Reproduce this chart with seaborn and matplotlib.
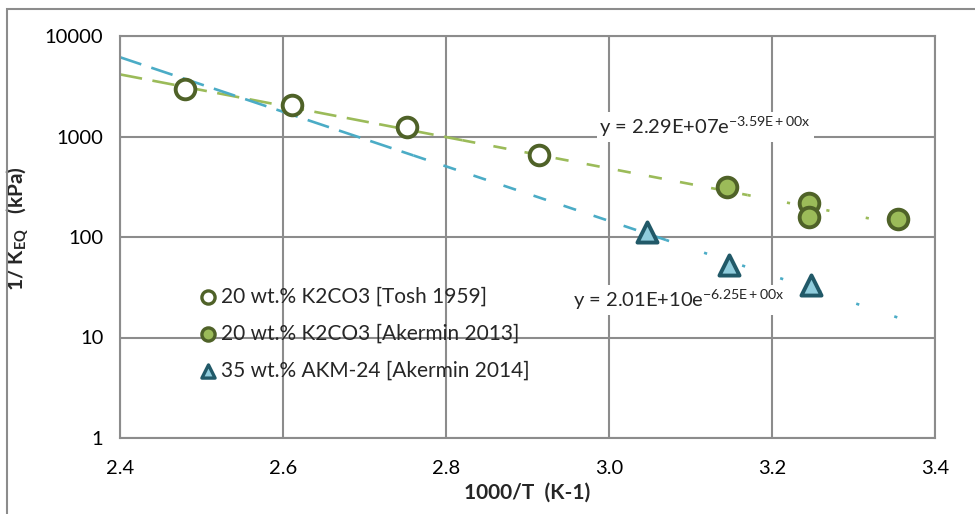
import numpy as np
import pandas as pd
import matplotlib
matplotlib.use("Agg")
import matplotlib.pyplot as plt
from matplotlib.patches import Rectangle
import seaborn as sns

# ---- data ----
tosh_x = [2.480, 2.611, 2.752, 2.914]
tosh_y = [2970, 2050, 1245, 655]

ak13_x = [3.145, 3.245, 3.245, 3.355]
ak13_y = [315, 218, 158, 151]

ak14_x = [3.047, 3.147, 3.248]
ak14_y = [112, 53, 33]

labels = ["20 wt.% K2CO3 [Tosh 1959]",
          "20 wt.% K2CO3 [Akermin 2013]",
          "35 wt.% AKM-24 [Akermin 2014]"]

# trendline coefficients shown on the chart: y = A * exp(B * x)
green_A, green_B = 2.29e7, -3.59
blue_A, blue_B = 2.01e10, -6.25
trend_x_range = [2.4, 3.38]

eq_green = r"y = 2.29E+07e$^{\mathregular{-3.59E+00x}}$"
eq_blue = r"y = 2.01E+10e$^{\mathregular{-6.25E+00x}}$"

x_ticks = [2.4, 2.6, 2.8, 3.0, 3.2, 3.4]
y_ticks = [1, 10, 100, 1000, 10000]

# ---- style ----
sns.set_theme(style="white")
plt.rcParams['font.family'] = ['Lato', 'DejaVu Sans']
plt.rcParams['mathtext.fontset'] = 'custom'
plt.rcParams['mathtext.rm'] = 'Lato'
plt.rcParams['mathtext.bf'] = 'Lato:bold'
plt.rcParams['mathtext.it'] = 'Lato:italic'

GREEN_LINE = "#9BBB59"
GREEN_DARK = "#4F6228"
BLUE_LINE = "#4BACC6"
BLUE_DARK = "#215968"
BLUE_FILL = "#8FCCDC"
GRID = "#8C8C8C"

fig = plt.figure(figsize=(9.75, 5.14), dpi=100)
ax = fig.add_axes([120/975, 76/514, 815/975, 402/514])

# outer chart border (extends beyond the right/bottom of the picture)
fig.patches.append(Rectangle((7/975, -0.2), 1.2, 1.2 - 9/514, transform=fig.transFigure,
                             fill=False, edgecolor="#8C8C8C", linewidth=1.5, zorder=0))

# ---- trendlines (dash pattern fades toward the right, like the original) ----
def trend(A, B, color, breaks):
    segs = [(trend_x_range[0], breaks[0], (0, (8.5, 4))),
            (breaks[0], breaks[1], (0, (5, 7))),
            (breaks[1], trend_x_range[1], (0, (1.2, 14)))]
    for x0, x1, ls in segs:
        xs = np.linspace(x0, x1, 60)
        df = pd.DataFrame({"x": xs, "y": A * np.exp(B * xs)})
        sns.lineplot(data=df, x="x", y="y", ax=ax, color=color, linewidth=1.9,
                     linestyle=ls, zorder=2, legend=False)

trend(green_A, green_B, GREEN_LINE, (2.82, 3.17))
trend(blue_A, blue_B, BLUE_LINE, (2.76, 3.07))

# ---- points ----
sns.scatterplot(x=tosh_x, y=tosh_y, ax=ax, marker="o", s=200, facecolor="white",
                edgecolor=GREEN_DARK, linewidth=2.8, zorder=4, label=labels[0])
sns.scatterplot(x=ak13_x, y=ak13_y, ax=ax, marker="o", s=200, facecolor=GREEN_LINE,
                edgecolor=GREEN_DARK, linewidth=2.8, zorder=4, label=labels[1])
sns.scatterplot(x=ak14_x, y=ak14_y, ax=ax, marker="^", s=210, facecolor=BLUE_FILL,
                edgecolor=BLUE_DARK, linewidth=2.8, zorder=4, label=labels[2])

# ---- axes ----
ax.set_yscale("log")
ax.set_xlim(2.4, 3.4)
ax.set_ylim(1, 10000)
ax.set_xticks(x_ticks)
ax.set_xticklabels([f"{v:.1f}" for v in x_ticks])
ax.set_yticks(y_ticks)
ax.set_yticklabels([str(v) for v in y_ticks])
ax.yaxis.set_minor_locator(matplotlib.ticker.NullLocator())
ax.grid(True, color=GRID, linewidth=1.5)
ax.set_axisbelow(True)
for sp in ax.spines.values():
    sp.set_color(GRID)
    sp.set_linewidth(1.5)
ax.tick_params(axis="both", which="major", labelsize=14.5, colors="black",
               length=6, width=1.5, color=GRID, direction="out", pad=6)
ax.tick_params(axis="x", pad=10)

ax.set_xlabel("1000/T  (K-1)", fontsize=15, fontweight="bold", labelpad=4)
ax.set_ylabel(r"1/ K$_{\mathbf{EQ}}$   (kPa)", fontsize=15, fontweight="bold", labelpad=2)
ax.yaxis.set_label_coords(-0.109, 0.52)

# ---- equations ----
ax.text(0.718, 0.774, eq_green, transform=ax.transAxes, ha="center", va="center",
        fontsize=14.5, zorder=5, bbox=dict(facecolor="white", edgecolor="none", pad=2))
ax.text(0.685, 0.343, eq_blue, transform=ax.transAxes, ha="center", va="center",
        fontsize=14.5, zorder=5, bbox=dict(facecolor="white", edgecolor="none", pad=2))

# ---- legend ----
leg = ax.legend(loc="upper left", bbox_to_anchor=(0.085, 0.397), frameon=False,
                fontsize=15, handletextpad=0.1, labelspacing=0.82,
                handlelength=1.0, borderaxespad=0)
for h in leg.legend_handles:
    h.set_sizes([90])
    h.set_linewidth(2.4)

fig.savefig("out.png", dpi=100)
